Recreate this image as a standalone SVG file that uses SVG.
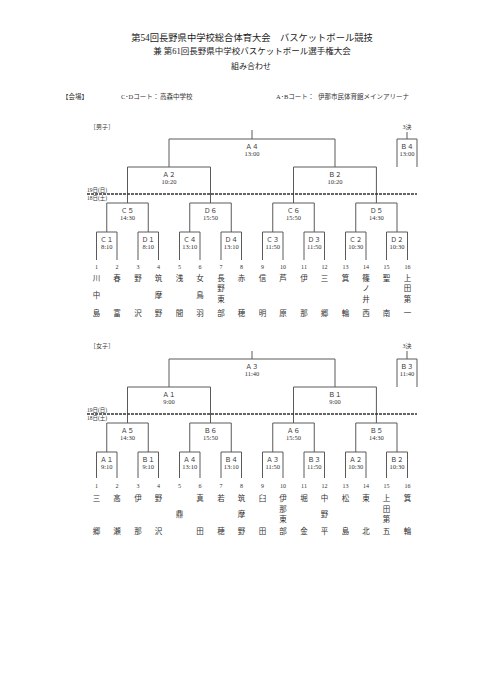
<svg xmlns="http://www.w3.org/2000/svg" width="481" height="680" viewBox="0 0 481 680">
<style>
.bg{fill:#fff}
.ln{fill:none;stroke:#5a5a5a;stroke-width:1}
.dl{fill:none;stroke:#333;stroke-width:1.6;stroke-dasharray:3 1}
.t{font-family:"Liberation Serif","Noto Sans CJK JP",serif;fill:#222;text-anchor:middle}
.h1{font-size:9.3px}
.h2{font-size:8.5px}
.h3{font-size:8px}
.v{font-family:"Liberation Serif","Noto Sans CJK JP",serif;fill:#333;font-size:6.5px}
.sec{font-family:"Liberation Serif","Noto Sans CJK JP",serif;fill:#333;font-size:6px}
.lb{font-family:"Liberation Serif","Noto Sans CJK JP",serif;fill:#333;font-size:6.5px;text-anchor:middle}
.dt{font-family:"Liberation Serif","Noto Sans CJK JP",serif;fill:#333;font-size:5.5px}
.no{font-family:"Liberation Serif",serif;fill:#333;font-size:6px;text-anchor:middle;dominant-baseline:central}
.nm{font-family:"Noto Sans CJK JP",sans-serif;fill:#333;font-size:7.5px;text-anchor:middle;dominant-baseline:central}
</style>
<rect class="bg" x="0" y="0" width="481" height="680"/>

<g id="header">
<text class="t h1" x="252" y="41">第54回長野県中学校総合体育大会　バスケットボール競技</text>
<text class="t h2" x="252" y="54">兼 第61回長野県中学校バスケットボール選手権大会</text>
<text class="t h3" x="251" y="69">組み合わせ</text>
<text class="v" x="62" y="99">【会場】</text>
<text class="v" x="121" y="99">C･Dコート：</text>
<text class="v" x="160" y="99">高森中学校</text>
<text class="v" x="276" y="99">A･Bコート：</text>
<text class="v" x="318" y="99">伊那市民体育館メインアリーナ</text>
</g>

<g id="connectors">
<path class="ln" d="M252,130V139 M169,139H335 M169,139V167 M335,139V167
M127.5,167H210.5 M293.5,167H376.4
M127.5,167V203 M210.5,167V203 M293.5,167V203 M376.4,167V203
M106.75,203H148.25 M189.75,203H231.25 M272.75,203H314.25 M355.75,203H397
M106.75,203V232 M148.25,203V232 M189.75,203V232 M231.25,203V232 M272.75,203V232 M314.25,203V232 M355.75,203V232 M397,203V232
M96.5,232H117 M138,232H158.5 M179.5,232H200 M221,232H241.5 M262.5,232H283 M304,232H324.5 M345.5,232H366 M386.5,232H407.5
M96.5,232V260 M117,232V260 M138,232V260 M158.5,232V260 M179.5,232V260 M200,232V260 M221,232V260 M241.5,232V260
M262.5,232V260 M283,232V260 M304,232V260 M324.5,232V260 M345.5,232V260 M366,232V260 M386.5,232V260 M407.5,232V260
M407,132V139 M397,139H417 M397,139V167 M417,139V167"/>
<path class="dl" d="M87,194H417"/>
<path class="ln" d="M252,351V359 M169,359H335 M169,359V387 M335,359V387
M127.5,387H210.5 M293.5,387H376.4
M127.5,387V423 M210.5,387V423 M293.5,387V423 M376.4,387V423
M106.75,423H148.25 M189.75,423H231.25 M272.75,423H314.25 M355.75,423H397
M106.75,423V452 M148.25,423V452 M189.75,423V452 M231.25,423V452 M272.75,423V452 M314.25,423V452 M355.75,423V452 M397,423V452
M96.5,452H117 M138,452H158.5 M179.5,452H200 M221,452H241.5 M262.5,452H283 M304,452H324.5 M345.5,452H366 M386.5,452H407.5
M96.5,452V478 M117,452V478 M138,452V478 M158.5,452V478 M179.5,452V478 M200,452V478 M221,452V478 M241.5,452V478
M262.5,452V478 M283,452V478 M304,452V478 M324.5,452V478 M345.5,452V478 M366,452V478 M386.5,452V478 M407.5,452V478
M407,351V359 M397,359H417 M397,359V387 M417,359V387"/>
<path class="dl" d="M87,414H417"/>
</g>

<g id="boys">
<text class="sec" x="90" y="129">［男子］</text>
<text class="sec" x="407" y="129" text-anchor="middle">3決</text>
<text class="dt" x="87" y="192.3">19日(日)</text>
<text class="dt" x="87" y="199.8">18日(土)</text>
<g id="b-A4"><text class="lb" x="252" y="148.5">Ａ４</text><text class="lb" x="252" y="156.3">13:00</text></g>
<g id="b-B4"><text class="lb" x="407" y="148.5">Ｂ４</text><text class="lb" x="407" y="156.3">13:00</text></g>
<g id="b-A2"><text class="lb" x="169" y="176.5">Ａ２</text><text class="lb" x="169" y="184.3">10:20</text></g>
<g id="b-B2"><text class="lb" x="335" y="176.5">Ｂ２</text><text class="lb" x="335" y="184.3">10:20</text></g>
<g id="b-C5"><text class="lb" x="127.5" y="212.5">Ｃ５</text><text class="lb" x="127.5" y="220.3">14:30</text></g>
<g id="b-D6"><text class="lb" x="210.5" y="212.5">Ｄ６</text><text class="lb" x="210.5" y="220.3">15:50</text></g>
<g id="b-C6"><text class="lb" x="293.5" y="212.5">Ｃ６</text><text class="lb" x="293.5" y="220.3">15:50</text></g>
<g id="b-D5"><text class="lb" x="376.4" y="212.5">Ｄ５</text><text class="lb" x="376.4" y="220.3">14:30</text></g>
<g id="b-C1"><text class="lb" x="106.75" y="241.5">Ｃ１</text><text class="lb" x="106.75" y="249.3">8:10</text></g>
<g id="b-D1"><text class="lb" x="148.25" y="241.5">Ｄ１</text><text class="lb" x="148.25" y="249.3">8:10</text></g>
<g id="b-C4"><text class="lb" x="189.75" y="241.5">Ｃ４</text><text class="lb" x="189.75" y="249.3">13:10</text></g>
<g id="b-D4"><text class="lb" x="231.25" y="241.5">Ｄ４</text><text class="lb" x="231.25" y="249.3">13:10</text></g>
<g id="b-C3"><text class="lb" x="272.75" y="241.5">Ｃ３</text><text class="lb" x="272.75" y="249.3">11:50</text></g>
<g id="b-D3"><text class="lb" x="314.25" y="241.5">Ｄ３</text><text class="lb" x="314.25" y="249.3">11:50</text></g>
<g id="b-C2"><text class="lb" x="355.75" y="241.5">Ｃ２</text><text class="lb" x="355.75" y="249.3">10:30</text></g>
<g id="b-D2"><text class="lb" x="397" y="241.5">Ｄ２</text><text class="lb" x="397" y="249.3">10:30</text></g>

<g id="bt1"><text class="no" x="96.5" y="267">1</text><text class="nm" x="96.5" y="277">川</text><text class="nm" x="96.5" y="294.5">中</text><text class="nm" x="96.5" y="312">島</text></g>
<g id="bt2"><text class="no" x="117" y="267">2</text><text class="nm" x="117" y="277">春</text><text class="nm" x="117" y="312">富</text></g>
<g id="bt3"><text class="no" x="138" y="267">3</text><text class="nm" x="138" y="277">野</text><text class="nm" x="138" y="312">沢</text></g>
<g id="bt4"><text class="no" x="158.5" y="267">4</text><text class="nm" x="158.5" y="277">筑</text><text class="nm" x="158.5" y="294.5">摩</text><text class="nm" x="158.5" y="312">野</text></g>
<g id="bt5"><text class="no" x="179.5" y="267">5</text><text class="nm" x="179.5" y="277">浅</text><text class="nm" x="179.5" y="312">間</text></g>
<g id="bt6"><text class="no" x="200" y="267">6</text><text class="nm" x="200" y="277">女</text><text class="nm" x="200" y="294.5">鳥</text><text class="nm" x="200" y="312">羽</text></g>
<g id="bt7"><text class="no" x="221" y="267">7</text><text class="nm" x="221" y="277">長</text><text class="nm" x="221" y="287.5">野</text><text class="nm" x="221" y="298">東</text><text class="nm" x="221" y="312">部</text></g>
<g id="bt8"><text class="no" x="241.5" y="267">8</text><text class="nm" x="241.5" y="277">赤</text><text class="nm" x="241.5" y="312">穂</text></g>
<g id="bt9"><text class="no" x="262.5" y="267">9</text><text class="nm" x="262.5" y="277">信</text><text class="nm" x="262.5" y="312">明</text></g>
<g id="bt10"><text class="no" x="283" y="267">10</text><text class="nm" x="283" y="277">芦</text><text class="nm" x="283" y="312">原</text></g>
<g id="bt11"><text class="no" x="304" y="267">11</text><text class="nm" x="304" y="277">伊</text><text class="nm" x="304" y="312">那</text></g>
<g id="bt12"><text class="no" x="324.5" y="267">12</text><text class="nm" x="324.5" y="277">三</text><text class="nm" x="324.5" y="312">郷</text></g>
<g id="bt13"><text class="no" x="345.5" y="267">13</text><text class="nm" x="345.5" y="277">箕</text><text class="nm" x="345.5" y="312">輪</text></g>
<g id="bt14"><text class="no" x="366" y="267">14</text><text class="nm" x="366" y="277">篠</text><text class="nm" x="366" y="287.5">ノ</text><text class="nm" x="366" y="298">井</text><text class="nm" x="366" y="312">西</text></g>
<g id="bt15"><text class="no" x="386.5" y="267">15</text><text class="nm" x="386.5" y="277">聖</text><text class="nm" x="386.5" y="312">南</text></g>
<g id="bt16"><text class="no" x="407.5" y="267">16</text><text class="nm" x="407.5" y="277">上</text><text class="nm" x="407.5" y="287.5">田</text><text class="nm" x="407.5" y="298">第</text><text class="nm" x="407.5" y="312">一</text></g>
</g>

<g id="girls">
<text class="sec" x="90" y="348">［女子］</text>
<text class="sec" x="407" y="348" text-anchor="middle">3決</text>
<text class="dt" x="87" y="412.3">19日(日)</text>
<text class="dt" x="87" y="419.8">18日(土)</text>
<g id="g-A3f"><text class="lb" x="252" y="368.5">Ａ３</text><text class="lb" x="252" y="376.3">11:40</text></g>
<g id="g-B3f"><text class="lb" x="407" y="368.5">Ｂ３</text><text class="lb" x="407" y="376.3">11:40</text></g>
<g id="g-A1s"><text class="lb" x="169" y="396.5">Ａ１</text><text class="lb" x="169" y="404.3">9:00</text></g>
<g id="g-B1s"><text class="lb" x="335" y="396.5">Ｂ１</text><text class="lb" x="335" y="404.3">9:00</text></g>
<g id="g-A5"><text class="lb" x="127.5" y="432.5">Ａ５</text><text class="lb" x="127.5" y="440.3">14:30</text></g>
<g id="g-B6"><text class="lb" x="210.5" y="432.5">Ｂ６</text><text class="lb" x="210.5" y="440.3">15:50</text></g>
<g id="g-A6"><text class="lb" x="293.5" y="432.5">Ａ６</text><text class="lb" x="293.5" y="440.3">15:50</text></g>
<g id="g-B5"><text class="lb" x="376.4" y="432.5">Ｂ５</text><text class="lb" x="376.4" y="440.3">14:30</text></g>
<g id="g-A1"><text class="lb" x="106.75" y="461.5">Ａ１</text><text class="lb" x="106.75" y="469.3">9:10</text></g>
<g id="g-B1"><text class="lb" x="148.25" y="461.5">Ｂ１</text><text class="lb" x="148.25" y="469.3">9:10</text></g>
<g id="g-A4"><text class="lb" x="189.75" y="461.5">Ａ４</text><text class="lb" x="189.75" y="469.3">13:10</text></g>
<g id="g-B4"><text class="lb" x="231.25" y="461.5">Ｂ４</text><text class="lb" x="231.25" y="469.3">13:10</text></g>
<g id="g-A3"><text class="lb" x="272.75" y="461.5">Ａ３</text><text class="lb" x="272.75" y="469.3">11:50</text></g>
<g id="g-B3"><text class="lb" x="314.25" y="461.5">Ｂ３</text><text class="lb" x="314.25" y="469.3">11:50</text></g>
<g id="g-A2"><text class="lb" x="355.75" y="461.5">Ａ２</text><text class="lb" x="355.75" y="469.3">10:30</text></g>
<g id="g-B2"><text class="lb" x="397" y="461.5">Ｂ２</text><text class="lb" x="397" y="469.3">10:30</text></g>

<g id="gt1"><text class="no" x="96.5" y="486">1</text><text class="nm" x="96.5" y="497">三</text><text class="nm" x="96.5" y="530.5">郷</text></g>
<g id="gt2"><text class="no" x="117" y="486">2</text><text class="nm" x="117" y="497">高</text><text class="nm" x="117" y="530.5">瀬</text></g>
<g id="gt3"><text class="no" x="138" y="486">3</text><text class="nm" x="138" y="497">伊</text><text class="nm" x="138" y="530.5">那</text></g>
<g id="gt4"><text class="no" x="158.5" y="486">4</text><text class="nm" x="158.5" y="497">野</text><text class="nm" x="158.5" y="530.5">沢</text></g>
<g id="gt5"><text class="no" x="179.5" y="486">5</text><text class="nm" x="179.5" y="513.5">鼎</text></g>
<g id="gt6"><text class="no" x="200" y="486">6</text><text class="nm" x="200" y="497">真</text><text class="nm" x="200" y="530.5">田</text></g>
<g id="gt7"><text class="no" x="221" y="486">7</text><text class="nm" x="221" y="497">若</text><text class="nm" x="221" y="530.5">穂</text></g>
<g id="gt8"><text class="no" x="241.5" y="486">8</text><text class="nm" x="241.5" y="497">筑</text><text class="nm" x="241.5" y="513.5">摩</text><text class="nm" x="241.5" y="530.5">野</text></g>
<g id="gt9"><text class="no" x="262.5" y="486">9</text><text class="nm" x="262.5" y="497">臼</text><text class="nm" x="262.5" y="530.5">田</text></g>
<g id="gt10"><text class="no" x="283" y="486">10</text><text class="nm" x="283" y="497">伊</text><text class="nm" x="283" y="508">那</text><text class="nm" x="283" y="518.5">東</text><text class="nm" x="283" y="530.5">部</text></g>
<g id="gt11"><text class="no" x="304" y="486">11</text><text class="nm" x="304" y="497">堀</text><text class="nm" x="304" y="530.5">金</text></g>
<g id="gt12"><text class="no" x="324.5" y="486">12</text><text class="nm" x="324.5" y="497">中</text><text class="nm" x="324.5" y="513.5">野</text><text class="nm" x="324.5" y="530.5">平</text></g>
<g id="gt13"><text class="no" x="345.5" y="486">13</text><text class="nm" x="345.5" y="497">松</text><text class="nm" x="345.5" y="530.5">島</text></g>
<g id="gt14"><text class="no" x="366" y="486">14</text><text class="nm" x="366" y="497">東</text><text class="nm" x="366" y="530.5">北</text></g>
<g id="gt15"><text class="no" x="386.5" y="486">15</text><text class="nm" x="386.5" y="497">上</text><text class="nm" x="386.5" y="508">田</text><text class="nm" x="386.5" y="518.5">第</text><text class="nm" x="386.5" y="530.5">五</text></g>
<g id="gt16"><text class="no" x="407.5" y="486">16</text><text class="nm" x="407.5" y="497">箕</text><text class="nm" x="407.5" y="530.5">輪</text></g>
</g>
</svg>
